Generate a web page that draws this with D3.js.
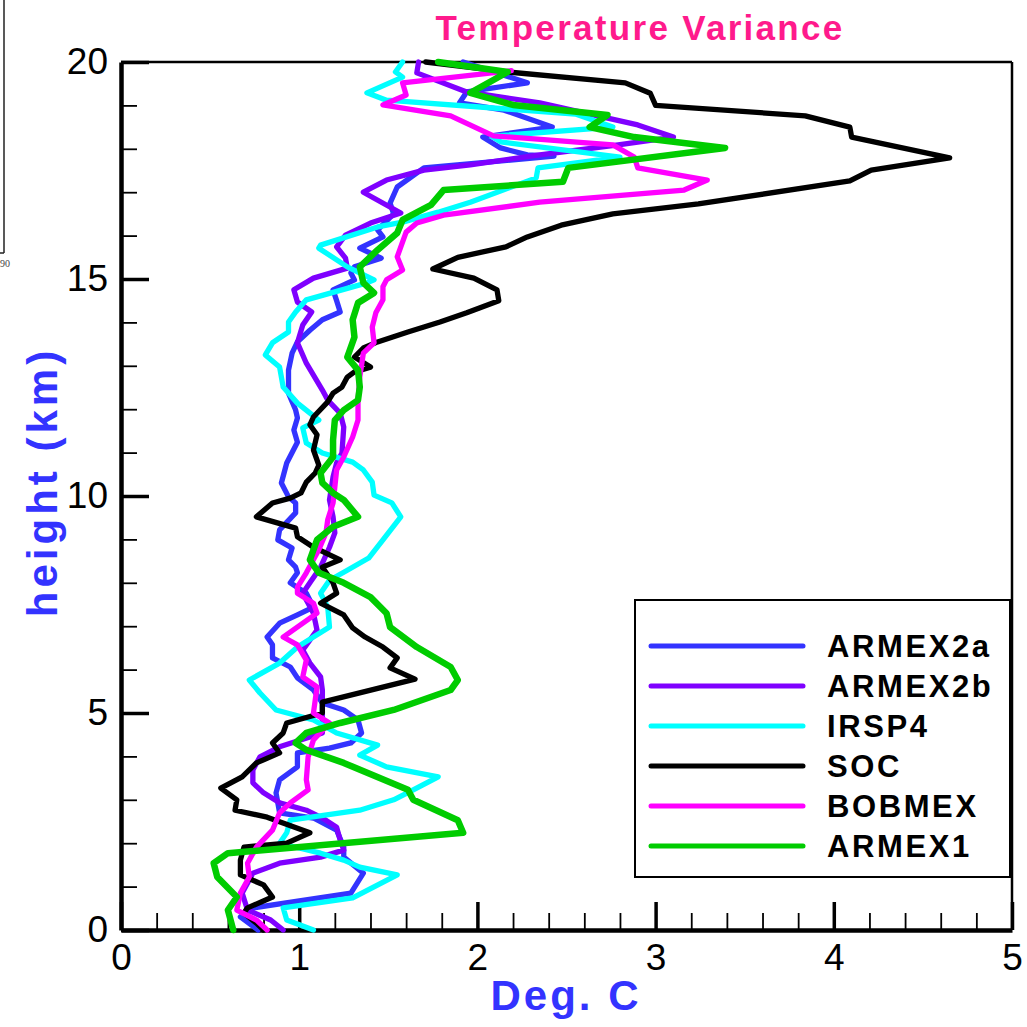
<!DOCTYPE html>
<html><head><meta charset="utf-8">
<script src="https://cdn.jsdelivr.net/npm/d3@7"></script>
<style>body{margin:0;background:#fff}</style>
</head><body>
<svg id="c" width="1027" height="1027" xmlns="http://www.w3.org/2000/svg"></svg>
<script>
// ---- data: [Deg. C, height km] pairs ----
const ARMEX2a = [[1.92,20.0],[2.28,19.52],[1.94,19.31],[1.90,19.06],[2.15,18.89],[2.42,18.5],[2.03,18.27],[2.13,18.02],[2.28,17.86],[2.43,17.83],[1.70,17.56],[1.55,17.12],[1.51,16.75],[1.53,16.5],[1.44,16.13],[1.47,15.97],[1.34,15.71],[1.46,15.48],[1.31,15.28],[1.29,15.14],[1.31,14.98],[1.19,14.75],[1.21,14.5],[1.23,14.24],[1.13,14.06],[1.06,13.82],[0.99,13.55],[0.96,13.29],[0.94,12.9],[0.94,12.37],[0.98,11.98],[0.99,11.8],[0.97,11.52],[0.99,11.24],[0.93,10.76],[0.90,10.3],[0.94,9.98],[0.98,9.84],[0.98,9.61],[0.89,9.22],[0.88,8.99],[0.96,8.8],[0.94,8.53],[0.98,8.36],[0.99,8.23],[0.95,8.0],[1.04,7.76],[1.08,7.44],[0.99,7.26],[0.89,7.07],[0.82,6.75],[0.85,6.57],[0.85,6.27],[0.95,6.06],[0.99,5.81],[1.08,5.53],[1.13,5.23],[1.25,5.07],[1.33,4.84],[1.35,4.54],[1.29,4.31],[1.17,4.19],[0.99,4.08],[0.99,3.76],[0.89,3.46],[0.87,3.16],[0.89,2.7],[1.08,2.58],[1.21,2.3],[1.25,1.91],[1.25,1.68],[1.36,1.31],[1.29,0.85],[0.74,0.51],[0.67,0.3],[0.77,0]];
const ARMEX2b = [[1.67,20],[1.66,19.75],[1.94,19.31],[2.35,19.06],[2.90,18.55],[3.10,18.27],[2.79,18.09],[2.35,17.86],[1.96,17.63],[1.70,17.51],[1.49,17.28],[1.36,17.0],[1.57,16.52],[1.40,16.29],[1.26,16.01],[1.21,15.74],[1.26,15.48],[1.27,15.25],[1.08,15.02],[0.97,14.75],[0.99,14.47],[1.07,14.24],[1.02,13.94],[0.99,13.53],[1.04,13.06],[1.13,12.44],[1.16,12.21],[1.23,11.91],[1.25,11.59],[1.24,10.99],[1.21,10.76],[1.19,10.44],[1.17,9.91],[1.19,9.52],[1.20,9.15],[1.17,8.82],[1.12,8.36],[1.06,8.0],[1.02,7.76],[1.08,7.3],[1.10,6.91],[1.02,6.45],[1.06,6.15],[1.12,5.83],[1.13,5.53],[1.13,5.0],[1.13,4.54],[0.89,4.22],[0.78,3.99],[0.74,3.69],[0.74,3.39],[0.80,3.16],[0.89,2.93],[1.04,2.76],[1.13,2.58],[1.21,2.37],[1.23,2.07],[1.25,1.84],[1.12,1.68],[0.89,1.54],[0.74,1.31],[0.68,0.85],[0.71,0.46],[0.84,0.23],[0.91,0]];
const IRSP4 = [[1.58,20.0],[1.54,19.77],[1.58,19.65],[1.38,19.29],[1.49,19.12],[2.55,18.8],[2.76,18.5],[2.08,18.29],[2.13,18.16],[2.80,17.81],[2.34,17.56],[2.33,17.33],[1.96,16.77],[1.78,16.54],[1.58,16.31],[1.44,16.2],[1.12,15.78],[1.11,15.71],[1.27,15.28],[1.42,14.98],[1.38,14.91],[1.04,14.52],[0.98,14.24],[0.94,14.01],[0.94,13.78],[0.85,13.53],[0.81,13.25],[0.89,12.97],[0.91,12.51],[0.99,12.14],[1.11,11.75],[1.02,11.57],[1.04,11.22],[1.13,10.99],[1.30,10.78],[1.36,10.6],[1.41,10.32],[1.42,10.02],[1.52,9.84],[1.57,9.52],[1.47,8.99],[1.39,8.57],[1.27,8.29],[1.17,8.06],[1.12,7.76],[1.16,7.44],[1.17,6.98],[1.08,6.75],[0.99,6.52],[0.89,6.15],[0.72,5.76],[0.78,5.46],[0.87,5.07],[1.08,4.84],[1.21,4.54],[1.44,4.26],[1.34,4.03],[1.49,3.76],[1.78,3.53],[1.64,3.23],[1.53,3.0],[1.34,2.76],[0.95,2.53],[0.93,2.24],[0.89,2.0],[1.12,1.77],[1.25,1.61],[1.34,1.45],[1.55,1.27],[1.30,0.74],[0.91,0.51],[0.93,0.23],[1.08,0]];
const SOC = [[1.71,20.0],[2.17,19.77],[2.83,19.52],[2.97,19.28],[3.0,19.0],[3.84,18.76],[4.09,18.5],[4.10,18.27],[4.65,17.79],[4.21,17.51],[4.09,17.26],[3.24,16.73],[2.76,16.5],[2.47,16.24],[2.28,15.97],[2.16,15.74],[1.89,15.5],[1.75,15.23],[1.98,15.02],[2.11,14.75],[2.12,14.5],[1.94,14.22],[1.79,14.01],[1.61,13.78],[1.44,13.55],[1.36,13.41],[1.31,13.2],[1.40,12.97],[1.31,12.86],[1.27,12.74],[1.24,12.51],[1.19,12.37],[1.16,12.17],[1.08,11.82],[1.06,11.64],[1.10,11.41],[1.08,11.06],[1.11,10.71],[1.09,10.53],[1.04,10.32],[1.01,10.07],[0.95,9.95],[0.85,9.84],[0.76,9.52],[0.98,9.26],[0.99,9.06],[1.08,8.82],[1.23,8.53],[1.13,8.36],[1.19,8.0],[1.21,7.76],[1.12,7.53],[1.25,7.26],[1.30,6.96],[1.37,6.75],[1.47,6.52],[1.55,6.27],[1.51,6.04],[1.65,5.78],[1.13,5.25],[1.13,5.0],[0.93,4.77],[0.91,4.54],[0.85,4.31],[0.89,4.08],[0.76,3.85],[0.68,3.53],[0.56,3.27],[0.65,3.0],[0.64,2.76],[0.82,2.6],[1.06,2.24],[0.93,2.0],[0.69,1.91],[0.67,1.61],[0.67,1.27],[0.80,1.04],[0.85,0.76],[0.71,0.51],[0.69,0.39],[0.76,0.16],[0.80,0]];
const BOBMEX = [[2.19,19.8],[1.58,19.52],[1.60,19.24],[1.47,19.01],[1.85,18.76],[2.09,18.3],[2.76,18.09],[2.88,17.81],[2.90,17.56],[3.29,17.28],[3.16,17.05],[2.35,16.77],[1.81,16.47],[1.66,16.29],[1.60,16.08],[1.55,15.51],[1.58,15.21],[1.49,14.98],[1.47,14.82],[1.47,14.52],[1.43,14.22],[1.41,13.89],[1.42,13.53],[1.36,13.29],[1.34,12.74],[1.33,12.21],[1.33,11.75],[1.30,11.36],[1.25,10.9],[1.21,10.6],[1.20,10.21],[1.19,9.84],[1.16,9.45],[1.15,9.15],[1.11,8.76],[1.04,8.23],[0.99,7.9],[0.99,7.76],[1.08,7.53],[1.10,7.3],[0.91,6.75],[0.99,6.57],[1.04,6.22],[1.02,5.83],[1.10,5.6],[1.08,5.0],[1.17,4.77],[1.08,4.38],[1.05,3.99],[1.04,3.46],[1.05,3.23],[0.95,2.93],[0.89,2.7],[0.85,2.3],[0.76,1.91],[0.71,1.54],[0.72,1.22],[0.67,0.85],[0.65,0.46],[0.76,0.23],[0.82,0]];
const ARMEX1 = [[1.78,20],[2.17,19.77],[1.96,19.29],[2.20,19.01],[2.73,18.78],[2.63,18.5],[2.88,18.27],[3.39,18.02],[2.51,17.56],[2.48,17.24],[1.81,17.05],[1.74,16.71],[1.58,16.36],[1.55,16.06],[1.44,15.67],[1.34,15.28],[1.36,14.91],[1.42,14.68],[1.33,14.45],[1.30,14.06],[1.31,13.66],[1.27,13.2],[1.33,12.9],[1.34,12.51],[1.33,12.21],[1.25,11.98],[1.20,11.75],[1.19,11.29],[1.19,10.9],[1.12,10.53],[1.13,10.3],[1.19,10.07],[1.25,9.91],[1.33,9.52],[1.19,9.29],[1.10,8.99],[1.06,8.53],[1.11,8.23],[1.25,8.0],[1.40,7.67],[1.49,7.3],[1.51,6.98],[1.66,6.52],[1.85,6.06],[1.89,5.76],[1.85,5.53],[1.53,5.07],[1.23,4.77],[1.04,4.54],[0.98,4.31],[1.04,4.15],[1.25,3.85],[1.61,3.23],[1.64,3.0],[1.89,2.53],[1.92,2.24],[0.60,1.77],[0.52,1.54],[0.54,1.22],[0.65,0.76],[0.60,0.46],[0.63,0]];

const seriesNames = ["ARMEX2a","ARMEX2b","IRSP4","SOC","BOBMEX","ARMEX1"];
const seriesData = [ARMEX2a, ARMEX2b, IRSP4, SOC, BOBMEX, ARMEX1];
const seriesColors = ["#3333ff","#7f00ff","#00ffff","#000000","#ff00ff","#00cc00"];
const xTicks = [0,1,2,3,4,5];
const yTicks = [0,5,10,15,20];
const xMinor = [0.2,0.4,0.6,0.8,1.2,1.4,1.6,1.8,2.2,2.4,2.6,2.8,3.2,3.4,3.6,3.8,4.2,4.4,4.6,4.8];
const yMinor = [1,2,3,4,6,7,8,9,11,12,13,14,16,17,18,19];
const titleText = "Temperature Variance";
const xLabel = "Deg. C";
const yLabel = "height (km)";

// ---- drawing ----
const FONT = "'Liberation Sans', Arial, Helvetica, sans-serif";
const svg = d3.select("#c");
const x = d3.scaleLinear().domain([0,5]).range([121,1012]);
const y = d3.scaleLinear().domain([0,20]).range([930,62]);

// stray fragment of neighbouring panel (top-left)
svg.append("line").attr("x1",4).attr("x2",4).attr("y1",0).attr("y2",253).attr("stroke","#222").attr("stroke-width",1.5);
svg.append("line").attr("x1",0).attr("x2",4).attr("y1",253).attr("y2",253).attr("stroke","#222").attr("stroke-width",1.5);
svg.append("text").attr("x",0).attr("y",267).attr("font-family","'Liberation Serif', serif").attr("font-size",10).attr("fill","#444").text("90");

// frame top/right (thin)
svg.append("line").attr("x1",x(0)).attr("x2",x(5)).attr("y1",y(20)).attr("y2",y(20)).attr("stroke","#000").attr("stroke-width",2.5);
svg.append("line").attr("x1",x(5)).attr("x2",x(5)).attr("y1",y(20)).attr("y2",y(0)).attr("stroke","#000").attr("stroke-width",2.5);

// minor ticks
const xMinorAxis = svg.append("g").attr("transform",`translate(0,${y(0)})`)
  .call(d3.axisBottom(x).tickValues(xMinor).tickSize(-17).tickSizeOuter(0).tickFormat(""));
xMinorAxis.select(".domain").remove();
xMinorAxis.selectAll("line").attr("stroke-width",1.8);
const yMinorAxis = svg.append("g").attr("transform",`translate(${x(0)},0)`)
  .call(d3.axisLeft(y).tickValues(yMinor).tickSize(-16).tickSizeOuter(0).tickFormat(""));
yMinorAxis.select(".domain").remove();
yMinorAxis.selectAll("line").attr("stroke-width",1.8);

// major axes
const xAxis = svg.append("g").attr("transform",`translate(0,${y(0)})`)
  .call(d3.axisBottom(x).tickValues(xTicks).tickSize(-28).tickSizeOuter(0).tickPadding(14).tickFormat(d3.format("d")));
xAxis.select(".domain").attr("stroke-width",4.5);
xAxis.selectAll(".tick line").attr("stroke-width",3.5);
xAxis.selectAll("text").attr("font-family",FONT).attr("font-size",37).attr("fill","#000");

const yAxis = svg.append("g").attr("transform",`translate(${x(0)},0)`)
  .call(d3.axisLeft(y).tickValues(yTicks).tickSize(-28).tickSizeOuter(0).tickPadding(13).tickFormat(d3.format("d")));
yAxis.select(".domain").attr("stroke-width",4.5);
yAxis.selectAll(".tick line").attr("stroke-width",3.5);
yAxis.selectAll("text").attr("font-family",FONT).attr("font-size",37).attr("fill","#000");

// series lines
const line = d3.line().x(d => x(d[0])).y(d => y(d[1]));
svg.append("g").selectAll("path").data(seriesData).join("path")
  .attr("d", line)
  .attr("fill","none")
  .attr("stroke",(d,i)=>seriesColors[i])
  .attr("stroke-width",(d,i)=> i===5 ? 6.5 : 5.3)
  .attr("stroke-linejoin","round")
  .attr("stroke-linecap","round");

// legend
const lg = svg.append("g");
lg.append("rect").attr("x",635).attr("y",600).attr("width",375).attr("height",277)
  .attr("fill","#fff").attr("stroke","#000").attr("stroke-width",2);
const items = lg.selectAll("g.it").data(seriesNames).join("g").attr("class","it")
  .attr("transform",(d,i)=>`translate(0,${646 + i*40})`);
items.append("line").attr("x1",651).attr("x2",803).attr("y1",0).attr("y2",0)
  .attr("stroke",(d,i)=>seriesColors[i]).attr("stroke-width",5).attr("stroke-linecap","round");
items.append("text").attr("x",827).attr("y",11).attr("font-family",FONT).attr("font-weight","bold")
  .attr("font-size",31).attr("letter-spacing",2.6).attr("fill","#000").text(d=>d);

// title & labels
svg.append("text").attr("x",640).attr("y",40).attr("text-anchor","middle")
  .attr("font-family",FONT).attr("font-weight","bold").attr("font-size",35).attr("letter-spacing",2.3)
  .attr("fill","#ff1a8c").text(titleText);
svg.append("text").attr("x",566).attr("y",1010).attr("text-anchor","middle")
  .attr("font-family",FONT).attr("font-weight","bold").attr("font-size",42).attr("letter-spacing",3)
  .attr("fill","#3333ff").text(xLabel);
svg.append("text").attr("transform","translate(57,482) rotate(-90)").attr("text-anchor","middle")
  .attr("font-family",FONT).attr("font-weight","bold").attr("font-size",42).attr("letter-spacing",4)
  .attr("fill","#3333ff").text(yLabel);
</script>
</body></html>
